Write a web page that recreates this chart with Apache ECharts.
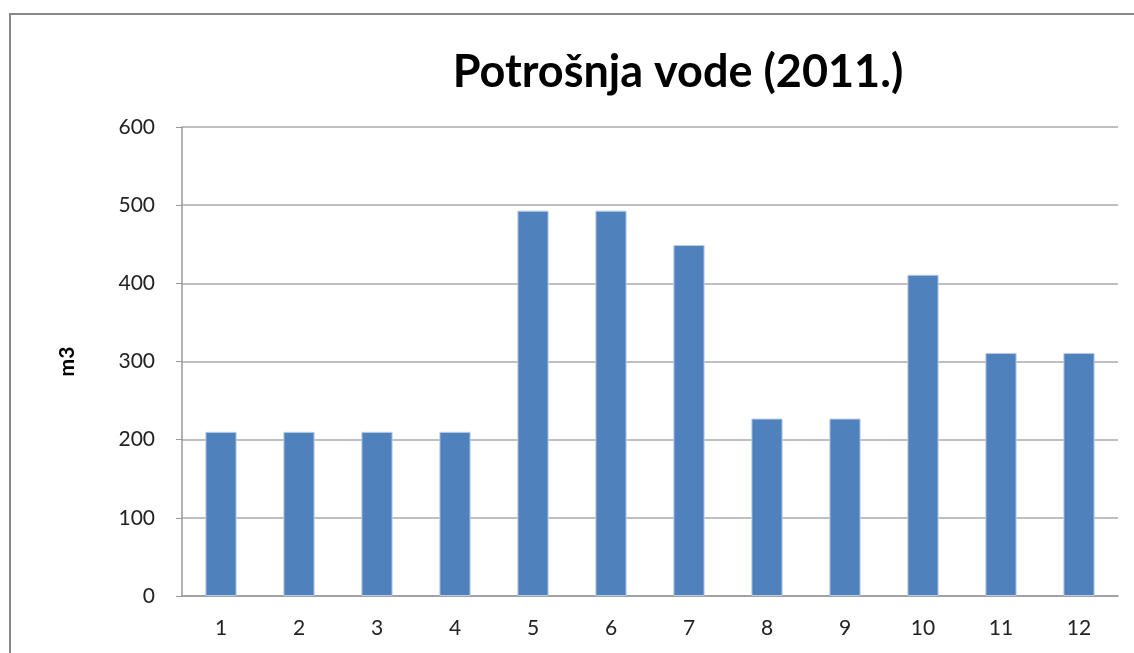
<!DOCTYPE html>
<html>
<head>
<meta charset="utf-8">
<script src="https://cdn.jsdelivr.net/npm/echarts@6/dist/echarts.min.js"></script>
<style>
html, body { margin: 0; padding: 0; background: #fff; }
#main { width: 1134px; height: 653px; }
</style>
</head>
<body>
<div id="main"></div>
<script>
var months = ['1', '2', '3', '4', '5', '6', '7', '8', '9', '10', '11', '12'];
var potrosnja = [210, 210, 210, 210, 493, 493, 449, 227, 227, 411, 311, 311];
var yTicks = [0, 100, 200, 300, 400, 500, 600];

var myChart = echarts.init(document.getElementById('main'));
var option = {
    backgroundColor: '#fff',
    animation: false,
    title: {
        text: 'Potrošnja vode (2011.)',
        left: 673,
        textAlign: 'center',
        top: 45,
        textStyle: {
            fontFamily: 'Lato',
            fontSize: 45,
            fontWeight: 'bold',
            color: '#000'
        }
    },
    graphic: [{
        type: 'rect',
        shape: { x: 10, y: 14, width: 1200, height: 700 },
        style: { fill: 'none', stroke: '#888', lineWidth: 2 },
        silent: true
    }],
    grid: {
        left: 182,
        right: 16,
        top: 127,
        bottom: 57
    },
    xAxis: {
        type: 'category',
        data: months,
        axisLine: { lineStyle: { color: '#999', width: 1.5 } },
        axisTick: { show: false },
        axisLabel: {
            fontFamily: 'Lato',
            fontSize: 21,
            color: '#222',
            margin: 22
        }
    },
    yAxis: {
        type: 'value',
        min: yTicks[0],
        max: yTicks[yTicks.length - 1],
        interval: 100,
        name: 'm3',
        nameLocation: 'middle',
        nameGap: 104,
        nameRotate: 90,
        nameTextStyle: {
            fontFamily: 'Lato',
            fontSize: 21,
            fontWeight: 'bold',
            color: '#000'
        },
        axisLine: { show: true, lineStyle: { color: '#999', width: 1.5 } },
        axisTick: { show: true, length: 6, lineStyle: { color: '#999' } },
        splitLine: { lineStyle: { color: '#aaa', width: 1.5 } },
        axisLabel: {
            fontFamily: 'Lato',
            fontSize: 21,
            color: '#222',
            margin: 27
        }
    },
    series: [{
        type: 'bar',
        data: potrosnja,
        barWidth: '40%',
        itemStyle: {
            color: '#4f81bd',
            borderColor: '#b9cde5',
            borderWidth: 1
        }
    }]
};
myChart.setOption(option);
</script>
</body>
</html>
